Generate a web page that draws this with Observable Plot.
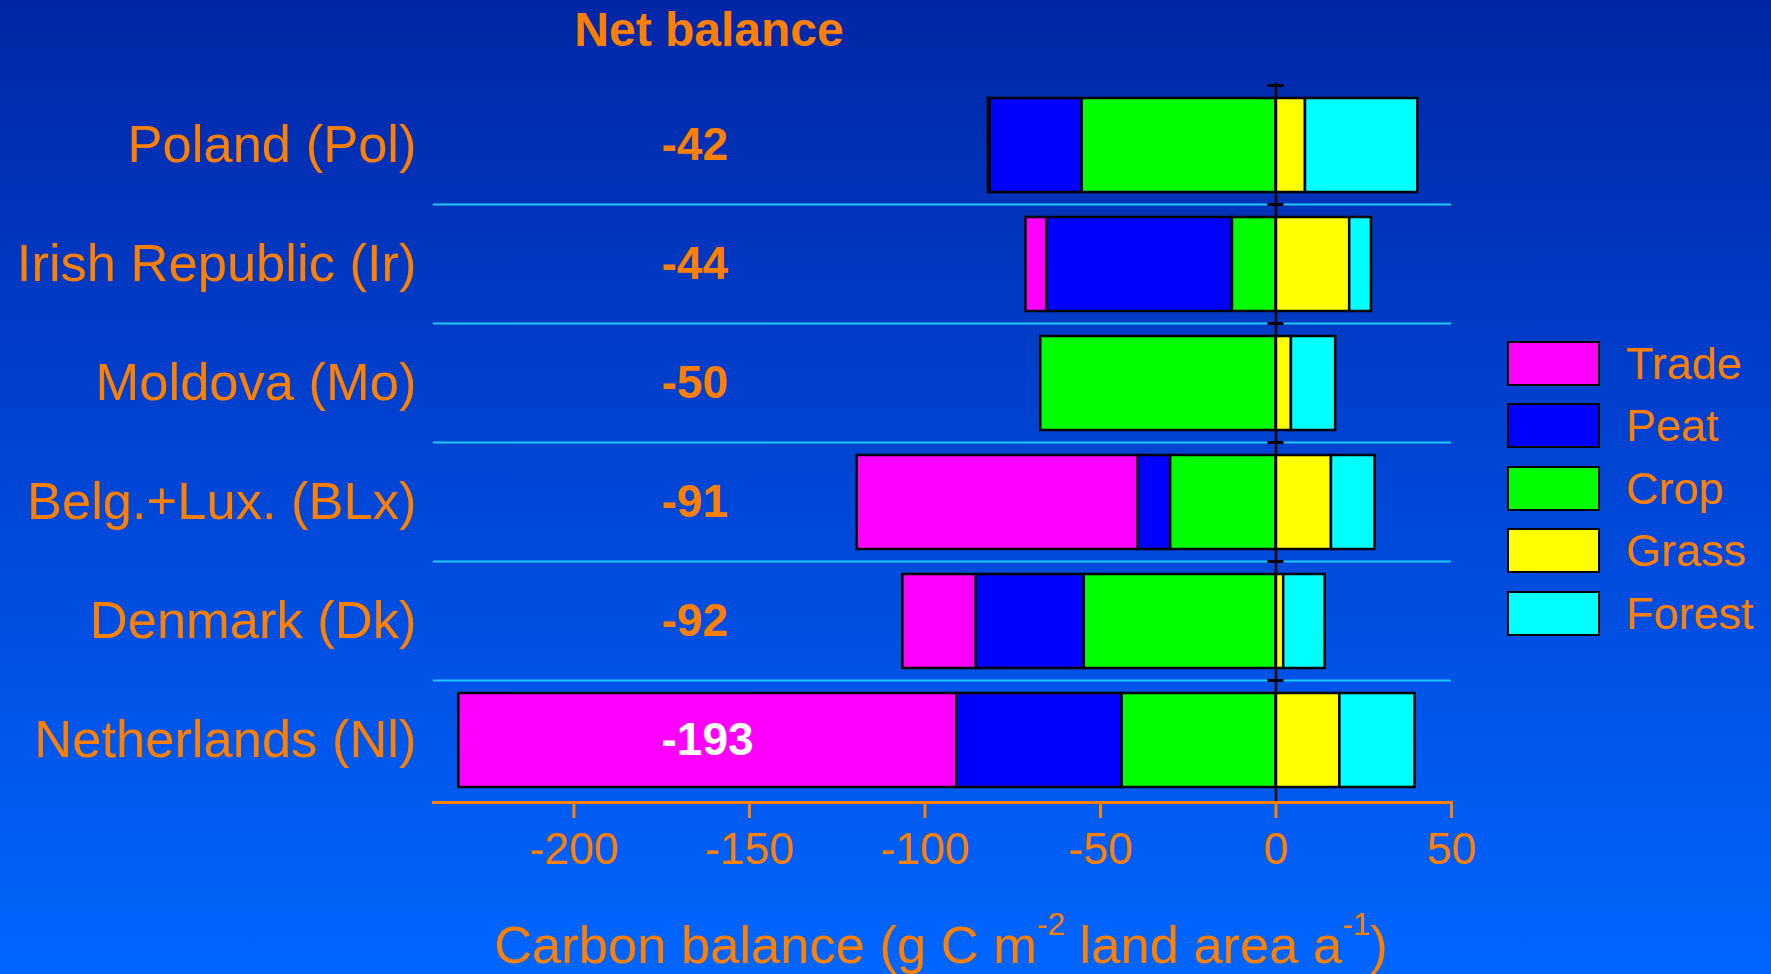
<!DOCTYPE html>
<html>
<head>
<meta charset="utf-8">
<script src="https://cdn.jsdelivr.net/npm/d3@7"></script>
<script src="https://cdn.jsdelivr.net/npm/@observablehq/plot@0.6"></script>
<style>
html, body { margin: 0; padding: 0; }
body {
  width: 1771px; height: 974px; position: relative; overflow: hidden;
  background: linear-gradient(to bottom, #0026a6 0%, #0046d6 50%, #0066ff 100%);
  font-family: "Liberation Sans", Arial, sans-serif;
  color: #ff8000;
}
#chart { position: absolute; left: 0; top: 0; }
#title {
  position: absolute; left: 709px; top: 6px; transform: translateX(-50%);
  font-size: 48px; line-height: 1; font-weight: bold; white-space: nowrap;
}
#xlabel {
  position: absolute; left: 941px; top: 919px; transform: translateX(-50%);
  font-size: 52.5px; line-height: 1; white-space: nowrap;
}
#xlabel .sup { font-size: 0.6em; position: relative; top: -0.9em; line-height: 1; }
.lg-swatch { position: absolute; left: 1507px; width: 93px; height: 45px; box-sizing: border-box; border: 2.5px solid #000; }
.lg-label { position: absolute; left: 1626px; height: 45px; line-height: 45px; font-size: 45px; white-space: nowrap; }
</style>
</head>
<body>
<div id="chart"></div>
<div id="title">Net balance</div>
<div id="xlabel">Carbon balance (g C m<span class="sup">-2</span> land area a<span class="sup">-1</span>)</div>
<div id="legend"></div>
<script>
// ---- data ----
const countries = ["Poland (Pol)", "Irish Republic (Ir)", "Moldova (Mo)", "Belg.+Lux. (BLx)", "Denmark (Dk)", "Netherlands (Nl)"];
const categories = ["Trade", "Peat", "Crop", "Grass", "Forest"];
const categoryColors = ["#ff00ff", "#0000ff", "#00ff00", "#ffff00", "#00ffff"];
const trade  = [-0.5,  -6.0,   0,    -80.1, -20.9, -141.9];
const peat   = [-26.2, -52.8,  0,    -9.2,  -30.8, -47.1];
const crop   = [-55.2, -12.4, -67.0, -30.0, -54.6, -43.8];
const grass  = [8.4,   21.0,   4.4,   15.8,  2.2,   18.2];
const forest = [32.0,  6.2,    12.6,  12.4,  11.8,  21.4];
const netBalance = [-42, -44, -50, -91, -92, -193];
const xTicks = [-200, -150, -100, -50, 0, 50];
const stackOrder = ["Crop", "Peat", "Trade", "Grass", "Forest"];

const series = [trade, peat, crop, grass, forest];
const rows = [];
countries.forEach((c, i) => categories.forEach((k, j) => {
  const v = series[j][i];
  if (v !== 0) rows.push({country: c, category: k, value: v});
}));
const netRows = countries.map((c, i) => ({country: c, net: netBalance[i], last: i === countries.length - 1}));

const orange = "#ff8000";
const chart = Plot.plot({
  width: 1771, height: 974,
  marginLeft: 433, marginRight: 320, marginTop: 82.5, marginBottom: 172,
  style: {background: "none", color: orange, fontFamily: '"Liberation Sans", Arial, sans-serif', overflow: "visible"},
  x: {domain: [-240, 50]},
  y: {domain: countries, paddingInner: 0.21, paddingOuter: 0.105, align: 0.5, label: null},
  color: {domain: categories, range: categoryColors},
  marks: [
    Plot.ruleY(countries.slice(1), {dy: -60, stroke: "#1ec8f8", strokeWidth: 2}),
    Plot.barX(rows, Plot.stackX({x: "value", y: "country", fill: "category", order: stackOrder, stroke: "#000", strokeWidth: 2.5})),
    Plot.ruleX([0], {stroke: "#000", strokeWidth: 2.5}),
    Plot.ruleY(countries, {x1: 0, x2: 0, insetLeft: -8, insetRight: -8, dy: -60, stroke: "#000", strokeWidth: 3}),
    Plot.text(netRows.filter(d => !d.last), {y: "country", text: "net", frameAnchor: "left", dx: 228, textAnchor: "start", fontWeight: "bold", fontSize: 46, fill: orange}),
    Plot.text(netRows.filter(d => d.last), {y: "country", text: "net", frameAnchor: "left", dx: 228, textAnchor: "start", fontWeight: "bold", fontSize: 46, fill: "white"}),
    Plot.frame({anchor: "bottom", stroke: orange, strokeWidth: 3}),
    Plot.axisX({ticks: xTicks, tickSize: 16, tickPadding: 14, fontSize: 44.5, stroke: orange, fill: orange, strokeWidth: 3, label: null, tickFormat: d => String(d).replace("−", "-")}),
    Plot.axisY({tickSize: 0, tickPadding: 17, fontSize: 52.5, fill: orange, label: null})
  ]
});
document.getElementById("chart").appendChild(chart);

// legend
const lg = document.getElementById("legend");
categories.forEach((k, i) => {
  const top = 340.7 + i * 62.5;
  const sw = document.createElement("div");
  sw.className = "lg-swatch";
  sw.style.top = top + "px";
  sw.style.background = categoryColors[i];
  lg.appendChild(sw);
  const lb = document.createElement("div");
  lb.className = "lg-label";
  lb.style.top = top + "px";
  lb.textContent = k;
  lg.appendChild(lb);
});
</script>
</body>
</html>
